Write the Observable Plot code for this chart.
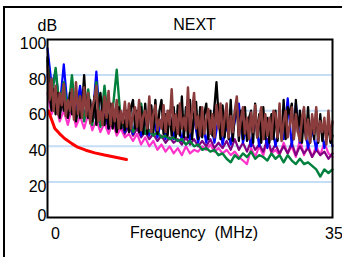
<!DOCTYPE html>
<html><head><meta charset="utf-8">
<script src="https://cdn.jsdelivr.net/npm/d3@7"></script>
<script src="https://cdn.jsdelivr.net/npm/@observablehq/plot@0.6"></script>
<style>
body{margin:0;background:#fff;}
#chart{position:relative;width:342px;height:257px;overflow:hidden;background:#fff;}
#box{position:absolute;left:3px;top:6px;width:400px;height:400px;border:2px solid #000;}
#chart svg{position:absolute;left:0;top:0;}
</style></head><body>
<div id="chart"><div id="box"></div></div>
<script>
const title = "NEXT";
const yUnit = "dB";
const xLabel = "Frequency  (MHz)";
const yTicks = [0, 20, 40, 60, 80, 100];
const gridValues = [20, 40, 60, 80];
const xTicks = [0, 35];

// sampling grids, MHz
const freqFine = d3.range(141).map(i => i / 4);
const freq = d3.range(71).map(i => i / 2);

// fine series (0.25 MHz step), four values per MHz
const brown = [
  85,66,78,60, 74,58,70,63, 75,57,66,60, 72,55,76,58, 68,56,73,57,
  70,53,62,66, 74,54,60,52, 68,56,71,52, 64,54,66,50, 60,53,65,51,
  64,50,58,62, 51,66,49,57, 60,50,68,48, 58,63,49,55, 50,63,48,60,
  52,72,49,58, 47,64,50,56, 49,73,48,59, 70,50,57,46, 62,47,55,61,
  47,58,45,63, 50,64,46,56, 64,45,57,48, 60,68,46,55, 62,47,56,44,
  59,48,63,45, 55,62,44,58, 46,56,44,60, 58,45,64,43, 54,60,45,52,
  62,44,58,48, 43,56,62,44, 55,42,58,47, 62,43,54,48, 56,41,60,44,
  54];
const black = [
  90,70,60,72, 58,70,56,68, 60,64,56,70, 58,66,54,62, 56,62,80,60,
  56,66,54,68, 52,64,70,58, 52,62,50,64, 50,60,48,62, 50,58,49,60,
  48,62,66,50, 60,48,62,47, 64,47,60,63, 48,66,47,60, 66,47,58,46,
  60,46,62,45, 63,46,68,45, 62,45,66,44, 58,65,44,62, 45,58,64,44,
  60,46,62,76, 58,44,63,45, 60,44,66,43, 58,64,43,60, 44,62,43,56,
  60,42,64,45, 58,42,62,44, 56,42,58,44, 60,43,56,44, 66,44,62,58,
  64,44,66,48, 60,42,58,44, 62,42,56,44, 60,42,58,43, 54,44,52,42,
  46];

// coarse series (0.5 MHz step)
const blue = [95,75,82,62,86,60,70,58,74,56,
  66,54,82,52,64,50,62,50,58,48,
  56,47,58,46,54,46,56,45,55,44,
  58,44,56,43,54,43,56,42,54,42,
  55,42,56,41,52,41,54,64,42,52,
  40,56,40,52,39,54,40,52,44,67,
  40,64,42,52,39,50,38,54,39,50,
  40];
const green = [88,66,84,60,76,58,80,55,68,54,
  72,52,76,51,74,52,60,83,54,50,
  58,48,52,64,47,49,46,48,45,46,
  44,45,43,44,41,43,40,41,38,39,
  37,38,35,36,33,31,35,33,36,34,
  37,33,35,34,32,36,33,35,31,35,
  32,30,33,30,31,29,27,23,27,25,
  27];
const magenta = [70,58,64,54,60,52,62,51,57,50,
  58,49,55,48,53,47,54,46,50,45,
  47,43,47,41,45,40,43,38,41,37,
  40,36,39,35,40,36,38,37,40,38,
  41,37,39,36,38,35,37,34,32,30,
  39,34,40,35,44,36,38,35,42,36,
  40,34,44,35,41,34,40,35,42,36,
  34];
const purple = [80,62,70,58,66,56,68,60,72,55,
  66,54,60,52,58,50,56,48,54,47,
  52,46,50,45,48,44,47,43,46,42,
  45,42,44,41,45,41,44,40,43,40,
  44,39,42,39,43,38,44,38,42,37,
  43,38,41,37,44,37,41,36,40,36,
  42,35,40,36,39,34,38,35,37,33,
  36];

// limit curve
const limitFreq = [0.1, 0.5, 0.9, 1.5, 2.1, 3.0, 3.7, 4.7, 5.8, 7.0, 7.9, 9.7];
const limitVal  = [60, 55, 50, 47, 44.4, 41.5, 39.5, 37.8, 36.3, 35.1, 34.3, 32.6];

const series = [
  {values: magenta, grid: freq, color: "#ff33cc", w: 2.2},
  {values: purple, grid: freq, color: "#800080", w: 2.2},
  {values: blue, grid: freq, color: "#0000ff", w: 2.2},
  {values: green, grid: freq, color: "#00803c", w: 2.4},
  {values: black, grid: freqFine, color: "#000000", w: 2.3},
  {values: brown, grid: freqFine, color: "#8b3c3c", w: 2.5}
];

const lineMarks = series.map(s => Plot.line(
  s.grid.map((f, i) => ({f, v: s.values[i]})),
  {x: "f", y: "v", stroke: s.color, strokeWidth: s.w}
));
const limitData = limitFreq.map((f, i) => ({f, v: limitVal[i]}));

const font = "'Liberation Sans', Arial, sans-serif";
const plot = Plot.plot({
  width: 342, height: 257,
  marginLeft: 47, marginRight: 10, marginTop: 39, marginBottom: 40,
  style: {fontFamily: font, fontSize: "16px", background: "transparent", color: "#000"},
  x: {domain: [0, 35]},
  y: {domain: [0, 100]},
  marks: [
    Plot.ruleY(gridValues, {stroke: "#c5ddf5", strokeWidth: 2}),
    ...lineMarks,
    Plot.line(limitData, {x: "f", y: "v", stroke: "#ff0000", strokeWidth: 3}),
    Plot.frame({stroke: "#000", strokeWidth: 2}),
    Plot.axisY(yTicks.filter(d => d > 0), {tickSize: 0, tickPadding: 1, dy: 4.5, label: null, fontSize: 16}),
    Plot.axisY(yTicks.filter(d => d === 0), {tickSize: 0, tickPadding: 1, dy: -2, label: null, fontSize: 16}),
    Plot.axisX([xTicks[0]], {tickSize: 0, tickPadding: 10, dx: 8, label: null, fontSize: 16}),
    Plot.axisX([xTicks[1]], {tickSize: 0, tickPadding: 10, dx: 1.5, label: null, fontSize: 16}),
    Plot.text([xLabel], {text: d => d, frameAnchor: "bottom", lineAnchor: "middle", dx: 4, dy: 15, fontSize: 16}),
    Plot.text([title], {text: d => d, frameAnchor: "top", lineAnchor: "middle", dx: 4.5, dy: -14.5, fontSize: 16, fontFamily: "'Liberation Sans Narrow', " + font}),
    Plot.text([yUnit], {text: d => d, frameAnchor: "top-left", lineAnchor: "middle", dx: -10, dy: -13.5, fontSize: 16})
  ]
});
document.getElementById("chart").appendChild(plot);
</script>
</body></html>
